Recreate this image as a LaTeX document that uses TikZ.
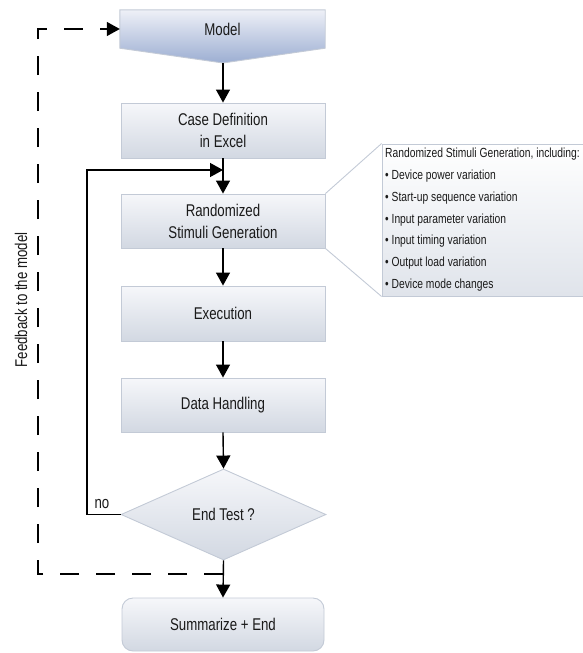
\documentclass[tikz,border=0pt]{standalone}
\usepackage{fontspec}
\setmainfont{Liberation Sans}[FakeStretch=0.78]
\usetikzlibrary{arrows.meta,shapes.geometric}
\definecolor{bordc}{HTML}{C3CAD6}
\definecolor{boxtop}{HTML}{F6F7FA}
\definecolor{boxbot}{HTML}{D2D8E2}
\definecolor{modtop}{HTML}{EEF0F7}
\definecolor{modbot}{HTML}{9CAED2}
\definecolor{txtc}{HTML}{1A1A1A}
\tikzset{
  x=1pt, y=-1pt,
  mainfont/.style={font=\fontsize{17}{22}\selectfont, text=txtc},
  procbox/.style={draw=bordc, line width=0.9pt, top color=boxtop, bottom color=boxbot,
    minimum width=204pt, inner sep=0pt, align=center, mainfont},
  flow/.style={line width=1.4pt, -{Triangle[length=13pt,width=14pt]}},
  feedback/.style={line width=1.4pt, dash pattern=on 19pt off 17pt, -{Triangle[length=13pt,width=14pt]}},
  calloutline/.style={draw=bordc, line width=0.9pt},
}
\begin{document}
\begin{tikzpicture}
\useasboundingbox (0,0) rectangle (583,653);
% Model (pentagon with V bottom)
\node[minimum width=205pt, minimum height=38pt, inner sep=0pt] (model) at (222.5,29) {};
\coordinate (modeltip) at (223,63);
\path[draw=bordc, line width=0.9pt, top color=modtop, bottom color=modbot]
  (model.north west) -- (model.north east) -- (model.south east) -- (modeltip) -- (model.south west) -- cycle;
\node[mainfont] (modeltext) at (model.center) {Model};
% process boxes
\node[procbox, minimum height=55pt] (case) at (223,130.5) {Case Definition\\in Excel};
\node[procbox, minimum height=54pt] (rand) at (223,221) {Randomized\\Stimuli Generation};
\node[procbox, minimum height=55pt] (exec) at (223,313.5) {Execution};
\node[procbox, minimum height=54pt] (dh) at (223,405) {Data Handling};
\node[diamond, draw=bordc, line width=0.9pt, top color=boxtop, bottom color=boxbot,
  minimum width=205pt, minimum height=91pt, aspect=2.25, inner sep=0pt, mainfont] (test) at (223.5,514.5) {End Test ?};
\node[procbox, rounded corners=11pt, minimum width=202pt, minimum height=53pt] (summ) at (223,624.5) {Summarize + End};
% callout
\node[draw=bordc, line width=0.9pt, top color=white, bottom color=boxbot!70,
  minimum width=202pt, minimum height=152pt, inner sep=0pt] (callout) at (483,220) {};
\draw[calloutline] (rand.north east) -- (callout.north west);
\draw[calloutline] (rand.south east) -- (callout.south west);
\node[anchor=north west, align=left, inner sep=0pt, text=txtc,
  font=\fontsize{13.2}{21.8}\selectfont] (callouttext) at (385,148)
  {Randomized Stimuli Generation, including:\\
   • Device power variation\\
   • Start-up sequence variation\\
   • Input parameter variation\\
   • Input timing variation\\
   • Output load variation\\
   • Device mode changes};
% main flow
\draw[flow] (modeltip) -- (case.north);
\draw[flow] (case.south) -- (rand.north);
\draw[flow] (rand.south) -- (exec.north);
\draw[flow] (exec.south) -- (dh.north);
\draw[flow] (dh.south) -- (test.north);
\draw[flow] (test.south) -- (summ.north);
% loop back
\coordinate (join) at (223,170);
\draw[flow] (test.west) -- (87,514.5) -- (87,170) -- (join);
\node[mainfont] (no) at (102,504) {no};
% feedback
\coordinate (fbstart) at (223,574);
\draw[feedback] (fbstart) -- (38,574) -- (38,29) -- (model.west);
\node[mainfont, rotate=90] (fblabel) at (21,300) {Feedback to the model};
\end{tikzpicture}
\end{document}
